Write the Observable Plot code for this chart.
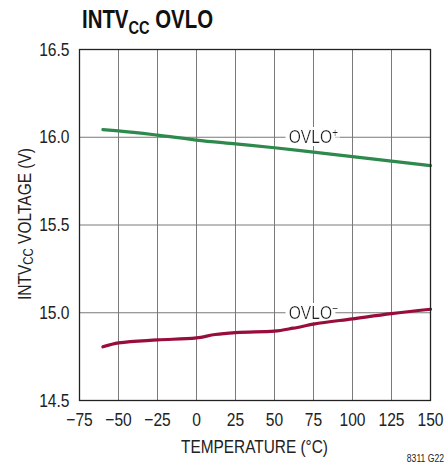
<!DOCTYPE html>
<html>
<head>
<meta charset="utf-8">
<script src="https://cdn.jsdelivr.net/npm/d3@7"></script>
<script src="https://cdn.jsdelivr.net/npm/@observablehq/plot@0.6"></script>
<style>
  html, body { margin: 0; padding: 0; background: #fff; }
  #chart svg { display: block; }
</style>
</head>
<body>
<div id="chart"></div>
<script>
// ---- data ----
const xTicks = [-75, -50, -25, 0, 25, 50, 75, 100, 125, 150];
const yTicks = [14.5, 15.0, 15.5, 16.0, 16.5];

const tempsPlus = [-60, -50, -25, 0, 25, 50, 75, 100, 125, 150];
const ovloPlus  = [16.043, 16.036, 16.012, 15.984, 15.962, 15.940, 15.915, 15.890, 15.864, 15.838];

const tempsMinus = [-60, -50, -25, 0, 12, 25, 50, 62, 75, 100, 125, 150];
const ovloMinus  = [14.806, 14.828, 14.845, 14.857, 14.876, 14.887, 14.895, 14.912, 14.935, 14.965, 14.995, 15.020];

const seriesLabels = [
  {name: "OVLO", sup: "+", x: 75, y: 16.0},
  {name: "OVLO", sup: "−", x: 75, y: 15.0}
];

const FONT = '"Liberation Sans", Arial, sans-serif';
const GREEN = "#2e8a4c";
const RED = "#990d3b";
const SQUEEZE = 0.82;

const plusData = tempsPlus.map((t, i) => ({t, v: ovloPlus[i]}));
const minusData = tempsMinus.map((t, i) => ({t, v: ovloMinus[i]}));

const plot = Plot.plot({
  width: 446,
  height: 467,
  marginTop: 49,
  marginBottom: 67,
  marginLeft: 79,
  marginRight: 16,
  style: {fontFamily: FONT, fontSize: "19px", color: "#222", background: "#fff"},
  x: {domain: [-75, 150], ticks: xTicks, label: null},
  y: {domain: [14.5, 16.5], ticks: yTicks, label: null},
  marks: [
    Plot.gridX(xTicks, {stroke: "#7a7a7a", strokeOpacity: 1, strokeWidth: 1}),
    Plot.gridY(yTicks, {stroke: "#7a7a7a", strokeOpacity: 1, strokeWidth: 1}),
    Plot.text(seriesLabels, {x: "x", y: "y", text: "name", textAnchor: "middle",
      fill: "#222", fontSize: 19, className: "serieslbl"}),
    Plot.line(plusData, {x: "t", y: "v", stroke: GREEN, strokeWidth: 3.2, curve: "monotone-x"}),
    Plot.line(minusData, {x: "t", y: "v", stroke: RED, strokeWidth: 3.2, curve: "monotone-x"}),
    Plot.frame({stroke: "#222", strokeWidth: 1.3}),
    Plot.axisX(xTicks, {tickSize: 0, tickPadding: 12, fontSize: 19, label: null}),
    Plot.axisY(yTicks, {tickSize: 0, tickPadding: 10, fontSize: 19, label: null, tickFormat: d => d.toFixed(1)})
  ]
});

document.getElementById("chart").appendChild(plot);

const svg = d3.select(plot);

// white halo filter for the in-plot labels
const defs = svg.insert("defs", ":first-child");
const f = defs.append("filter").attr("id", "lblhalo")
  .attr("x", "-20%").attr("y", "-40%").attr("width", "140%").attr("height", "180%");
f.append("feMorphology").attr("in", "SourceAlpha").attr("operator", "dilate").attr("radius", "4 3").attr("result", "d");
f.append("feFlood").attr("flood-color", "white").attr("result", "w");
f.append("feComposite").attr("in", "w").attr("in2", "d").attr("operator", "in").attr("result", "h");
const fm = f.append("feMerge");
fm.append("feMergeNode").attr("in", "h");
fm.append("feMergeNode").attr("in", "SourceGraphic");

// superscripts on the series labels
svg.selectAll(".serieslbl text").each(function(d, i) {
  d3.select(this).attr("filter", "url(#lblhalo)");
  d3.select(this).append("tspan").attr("dy", "-0.45em").attr("font-size", 13).text(seriesLabels[i].sup);
});

// Title
const title = svg.append("text")
  .attr("class", "fixedlen").attr("data-len", 131)
  .attr("x", 82).attr("y", 28).attr("text-anchor", "start")
  .attr("font-family", FONT).attr("font-weight", "bold")
  .attr("font-size", 26.5).attr("fill", "#111");
title.append("tspan").text("INTV");
title.append("tspan").attr("font-size", 19).attr("dy", 6).text("CC");
title.append("tspan").attr("dy", -6).text(" OVLO");

// Y axis label
const yl = svg.append("text")
  .attr("class", "fixedlen").attr("data-len", 152)
  .attr("transform", "translate(31,224) rotate(-90)")
  .attr("text-anchor", "middle")
  .attr("font-family", FONT).attr("font-size", 19).attr("fill", "#222");
yl.append("tspan").text("INTV");
yl.append("tspan").attr("font-size", 14).attr("dy", 2).text("CC");
yl.append("tspan").attr("dy", -2).text(" VOLTAGE (V)");

// X axis label
svg.append("text")
  .attr("class", "fixedlen").attr("data-len", 147)
  .attr("x", 254.5).attr("y", 453)
  .attr("text-anchor", "middle")
  .attr("font-family", FONT).attr("font-size", 19).attr("fill", "#222")
  .text("TEMPERATURE (°C)");

// Figure code
svg.append("text")
  .attr("x", 444).attr("y", 462)
  .attr("text-anchor", "end")
  .attr("font-family", FONT).attr("font-size", 10.5).attr("fill", "#222")
  .text("8311 G22");

// condense all text to mimic a narrow Helvetica
svg.selectAll("text").each(function() {
  const L = this.getComputedTextLength();
  if (!L) return;
  const fixed = this.getAttribute("data-len");
  const target = fixed ? +fixed : L * SQUEEZE;
  this.setAttribute("textLength", target);
  this.setAttribute("lengthAdjust", "spacingAndGlyphs");
});
</script>
</body>
</html>
